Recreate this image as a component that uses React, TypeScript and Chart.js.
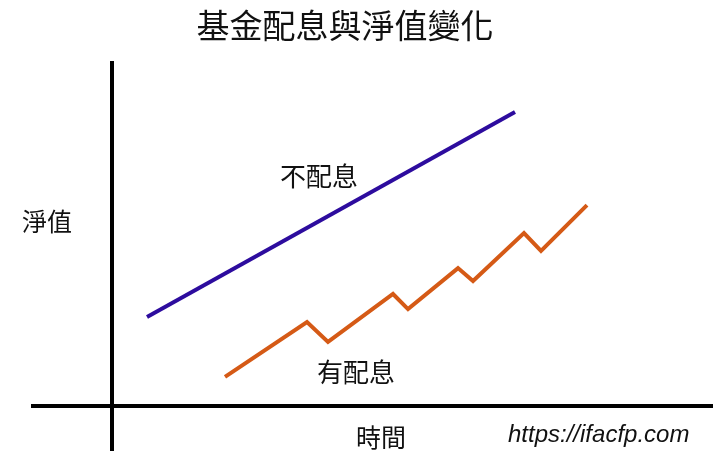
import React, { useEffect, useRef } from "react";
import { Chart, registerables } from "chart.js";

Chart.register(...registerables);

// Data (time units on x, net asset value units on y)
const noDividendTime = [0.7, 8.06];
const noDividendNav = [2.54, 8.4];
const dividendTime = [2.26, 3.9, 4.32, 5.62, 5.92, 6.92, 7.22, 8.24, 8.58, 9.5];
const dividendNav = [0.83, 2.4, 1.83, 3.2, 2.77, 3.94, 3.57, 4.94, 4.43, 5.74];

const titleText = "基金配息與淨值變化";
const yAxisLabel = "淨值";
const xAxisLabel = "時間";
const noDividendLabel = "不配息";
const dividendLabel = "有配息";
const watermark = "https://ifacfp.com";

const CJK = '"Noto Sans CJK TC", "Noto Sans CJK SC", sans-serif';

const textPlugin = {
  id: "diagramTexts",
  afterDraw(chart: any) {
    const ctx = chart.ctx;
    ctx.save();
    ctx.fillStyle = "#111111";
    ctx.textBaseline = "middle";
    ctx.textAlign = "center";
    ctx.font = `33px ${CJK}`;
    ctx.fillText(titleText, 345, 25);
    ctx.font = `25px ${CJK}`;
    ctx.fillText(yAxisLabel, 47, 221);
    ctx.fillText(xAxisLabel, 381, 437);
    ctx.font = `26px ${CJK}`;
    ctx.fillText(noDividendLabel, 319, 176);
    ctx.fillText(dividendLabel, 356, 372);
    ctx.textAlign = "left";
    ctx.textBaseline = "alphabetic";
    ctx.font = 'italic 24px "Liberation Sans", Arial, sans-serif';
    ctx.fillText(watermark, 508, 442);
    ctx.restore();
  },
};

export default function App() {
  const canvasRef = useRef<HTMLCanvasElement | null>(null);

  useEffect(() => {
    if (!canvasRef.current) return;
    const chart = new Chart(canvasRef.current, {
      type: "line",
      data: {
        datasets: [
          {
            label: noDividendLabel,
            data: noDividendTime.map((x, i) => ({ x, y: noDividendNav[i] })),
            borderColor: "#2d0c9e",
            borderWidth: 4,
            pointRadius: 0,
            tension: 0,
          },
          {
            label: dividendLabel,
            data: dividendTime.map((x, i) => ({ x, y: dividendNav[i] })),
            borderColor: "#d55a16",
            borderWidth: 4,
            borderJoinStyle: "miter",
            pointRadius: 0,
            tension: 0,
          },
        ],
      },
      options: {
        animation: false,
        responsive: false,
        layout: { padding: { left: 33, right: 13, top: 63, bottom: 5 } },
        plugins: {
          legend: { display: false },
          title: { display: false },
          tooltip: { enabled: false },
        },
        scales: {
          x: {
            type: "linear",
            min: -1.58,
            max: 12,
            position: { y: 0 } as any,
            grid: { display: false, drawTicks: false, tickLength: 0 },
            ticks: { display: false },
            border: { display: true, width: 4, color: "#000000" },
          },
          y: {
            type: "linear",
            min: -1.257,
            max: 9.8,
            position: { x: 0 } as any,
            grid: { display: false, drawTicks: false, tickLength: 0 },
            ticks: { display: false },
            border: { display: true, width: 4, color: "#000000" },
          },
        },
      },
      plugins: [textPlugin],
    });
    return () => chart.destroy();
  }, []);

  return (
    <div style={{ position: "fixed", left: 0, top: 0, width: 725, height: 455, background: "#ffffff" }}>
      <canvas ref={canvasRef} width={725} height={455} style={{ display: "block" }} />
    </div>
  );
}
